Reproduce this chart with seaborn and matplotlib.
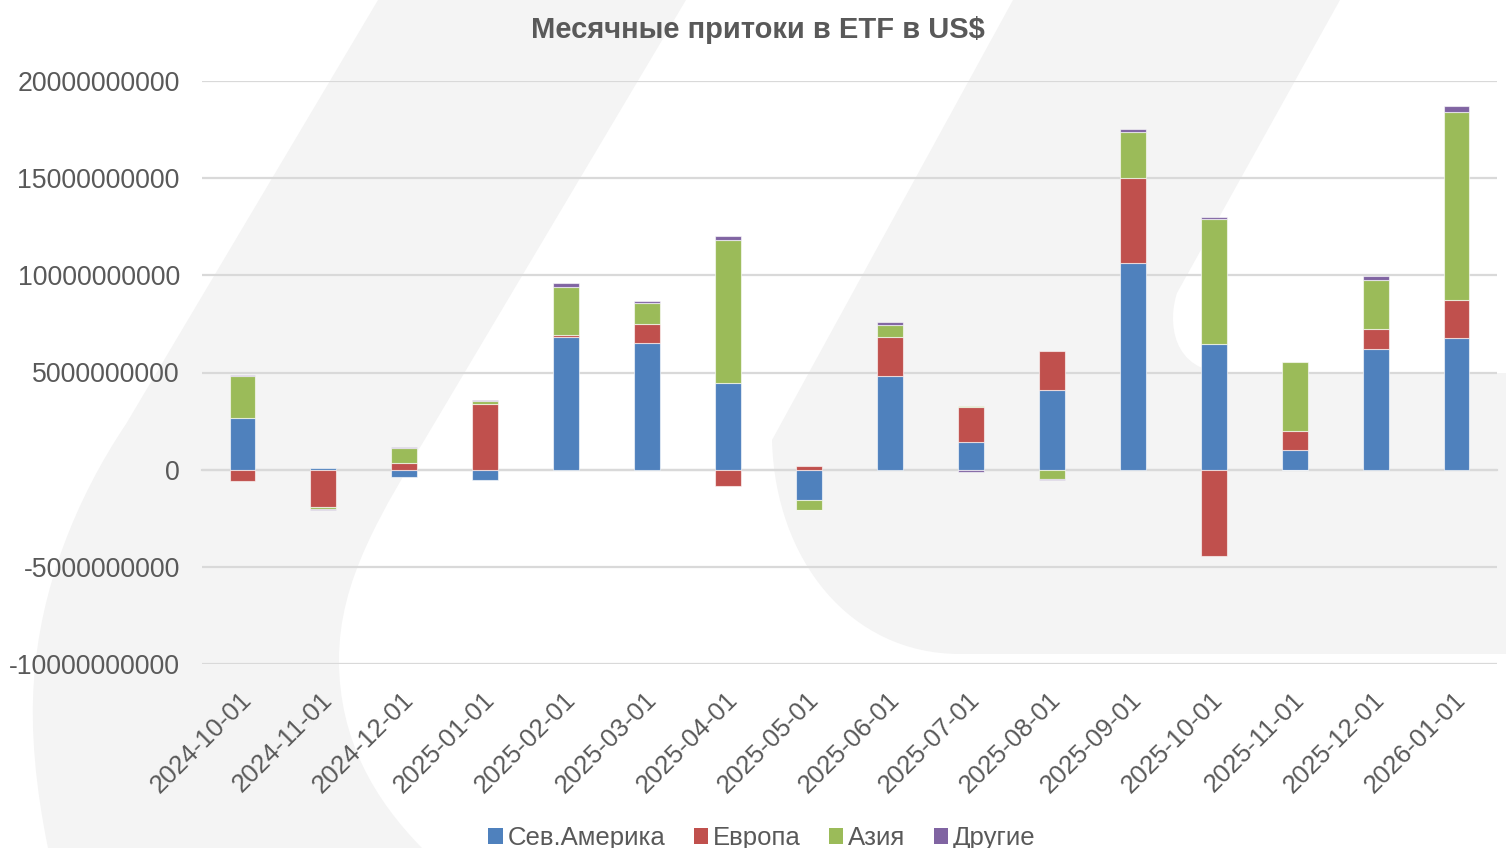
import numpy as np
import matplotlib
matplotlib.use("Agg")
import matplotlib.pyplot as plt
import seaborn as sns
from matplotlib.path import Path
from matplotlib.patches import PathPatch, Patch
from matplotlib.ticker import FuncFormatter
from matplotlib.transforms import ScaledTranslation

# ---------------- data (USD) ----------------
dates = ['2024-10-01', '2024-11-01', '2024-12-01', '2025-01-01', '2025-02-01',
         '2025-03-01', '2025-04-01', '2025-05-01', '2025-06-01', '2025-07-01',
         '2025-08-01', '2025-09-01', '2025-10-01', '2025-11-01', '2025-12-01',
         '2026-01-01']
north_america = [2.66e9, 0.07e9, -0.38e9, -0.53e9, 6.82e9, 6.51e9, 4.47e9, -1.58e9,
                 4.83e9, 1.40e9, 4.08e9, 10.61e9, 6.48e9, 1.01e9, 6.19e9, 6.77e9]
europe = [-0.60e9, -1.90e9, 0.32e9, 3.38e9, 0.12e9, 0.99e9, -0.82e9, 0.21e9,
          2.02e9, 1.80e9, 2.01e9, 4.38e9, -4.46e9, 0.98e9, 1.03e9, 1.94e9]
asia = [2.14e9, -0.12e9, 0.81e9, 0.13e9, 2.47e9, 1.10e9, 7.35e9, -0.48e9,
        0.60e9, 0.07e9, -0.50e9, 2.38e9, 6.43e9, 3.53e9, 2.52e9, 9.67e9]
other = [0.08e9, -0.07e9, 0.04e9, 0.09e9, 0.19e9, 0.10e9, 0.21e9, -0.03e9,
         0.15e9, -0.14e9, -0.03e9, 0.15e9, 0.09e9, -0.03e9, 0.21e9, 0.31e9]
series_names = ['Сев.Америка', 'Европа', 'Азия', 'Другие']
series_colors = ['#4f81bd', '#c0504d', '#9bbb59', '#8064a2']
title = 'Месячные притоки в ETF в US$'
y_ticks = [-10000000000, -5000000000, 0, 5000000000, 10000000000, 15000000000, 20000000000]

# ---------------- style ----------------
sns.set_theme(style="white")
plt.rcParams['font.family'] = ['Liberation Sans', 'DejaVu Sans']
TXT = '#595959'
GRID = '#d9d9d9'

W, H = 1506, 848
fig = plt.figure(figsize=(W / 100, H / 100), dpi=100)
fig.patch.set_facecolor('white')

def px(x, y):
    return (x / W, 1 - y / H)

# watermark shapes in the background
bg = '#f4f4f4'
left_verts = [(378, 0), (686, 0), (434, 424),
              (380, 515), (339, 580), (339, 660),
              (339, 740), (375, 800), (422, 848),
              (48, 848),
              (36, 790), (30, 730), (34, 680),
              (40, 590), (75, 500), (126, 424),
              (378, 0)]
left_codes = [Path.MOVETO, Path.LINETO, Path.LINETO,
              Path.CURVE4, Path.CURVE4, Path.CURVE4,
              Path.CURVE4, Path.CURVE4, Path.CURVE4,
              Path.LINETO,
              Path.CURVE4, Path.CURVE4, Path.CURVE4,
              Path.CURVE4, Path.CURVE4, Path.CURVE4,
              Path.CLOSEPOLY]
right_verts = [(1013, 0), (1340, 0), (1177, 293),
               (1168, 320), (1170, 373), (1230, 373),
               (1506, 373), (1506, 654), (960, 654),
               (850, 654), (775, 560), (772, 440),
               (1013, 0)]
right_codes = [Path.MOVETO, Path.LINETO, Path.LINETO,
               Path.CURVE4, Path.CURVE4, Path.CURVE4,
               Path.LINETO, Path.LINETO, Path.LINETO,
               Path.CURVE4, Path.CURVE4, Path.CURVE4,
               Path.CLOSEPOLY]
for verts, codes in [(left_verts, left_codes), (right_verts, right_codes)]:
    p = Path([px(*v) for v in verts], codes)
    fig.patches.append(PathPatch(p, transform=fig.transFigure, facecolor=bg,
                                 edgecolor='none', zorder=-10))

ax = fig.add_axes([202 / W, 1 - 664 / H, (1497 - 202) / W, (664 - 81) / H])
ax.set_facecolor('none')

# ---------------- stacked bars (positives up, negatives down) ----------------
pos_base = np.zeros(len(dates))
neg_base = np.zeros(len(dates))
for name, vals, col in zip(series_names, [north_america, europe, asia, other], series_colors):
    v = np.array(vals, dtype=float)
    bottoms = np.where(v >= 0, pos_base, neg_base)
    sns.barplot(x=dates, y=v, order=dates, bottom=bottoms, color=col, width=0.32,
                errorbar=None, ax=ax, edgecolor=(1, 1, 1, 0.6), linewidth=0.8,
                saturation=1, zorder=3)
    pos_base = pos_base + np.where(v >= 0, v, 0)
    neg_base = neg_base + np.where(v < 0, v, 0)

ax.set_xlim(-0.5, len(dates) - 0.5)
ax.set_ylim(-10e9, 20e9)
ax.set_yticks(y_ticks)
ax.yaxis.set_major_formatter(FuncFormatter(lambda v, p: f'{int(round(v))}'))
ax.yaxis.grid(True, color=GRID, linewidth=1.6, zorder=0)
ax.xaxis.grid(False)
ax.set_axisbelow(True)
for s in ['left', 'right', 'top']:
    ax.spines[s].set_visible(False)
ax.spines['bottom'].set_position(('data', 0))
ax.spines['bottom'].set_color(GRID)
ax.spines['bottom'].set_linewidth(1.6)
ax.spines['bottom'].set_zorder(1)
ax.set_xticks(np.arange(-0.5, len(dates), 1), minor=True)
ax.tick_params(axis='x', which='minor', length=6, width=1.6, color=GRID, direction='out')
ax.tick_params(axis='x', which='major', length=0, labelbottom=False)
ax.tick_params(axis='y', length=0, pad=16, labelsize=19.2, labelcolor=TXT)
ax.set_xlabel('')
ax.set_ylabel('')

# category labels at the bottom of the plot area
sec = ax.secondary_xaxis(0)
sec.set_xticks(range(len(dates)))
sec.set_xticklabels(dates, rotation=45, ha='right', va='top', rotation_mode='anchor',
                    fontsize=18.5, color=TXT)
sec.tick_params(length=0, pad=17)
for s in sec.spines.values():
    s.set_visible(False)
for lab in sec.get_xticklabels():
    lab.set_transform(lab.get_transform() + ScaledTranslation(-3 / 100, 0, fig.dpi_scale_trans))

# title
fig.text(758 / W, 1 - 30 / H, title, ha='center', va='center', fontsize=21,
         fontweight='bold', color=TXT)

# legend
handles = [Patch(facecolor=c, edgecolor='none') for c in series_colors]
fig.legend(handles, series_names, loc='center', bbox_to_anchor=(762 / W, 1 - 838 / H),
           ncol=4, frameon=False, fontsize=18.5, labelcolor=TXT,
           handlelength=0.55, handleheight=0.55, handletextpad=0.2,
           columnspacing=1.1, borderaxespad=0, borderpad=0)

fig.savefig('out.png', dpi=100, facecolor='white')
